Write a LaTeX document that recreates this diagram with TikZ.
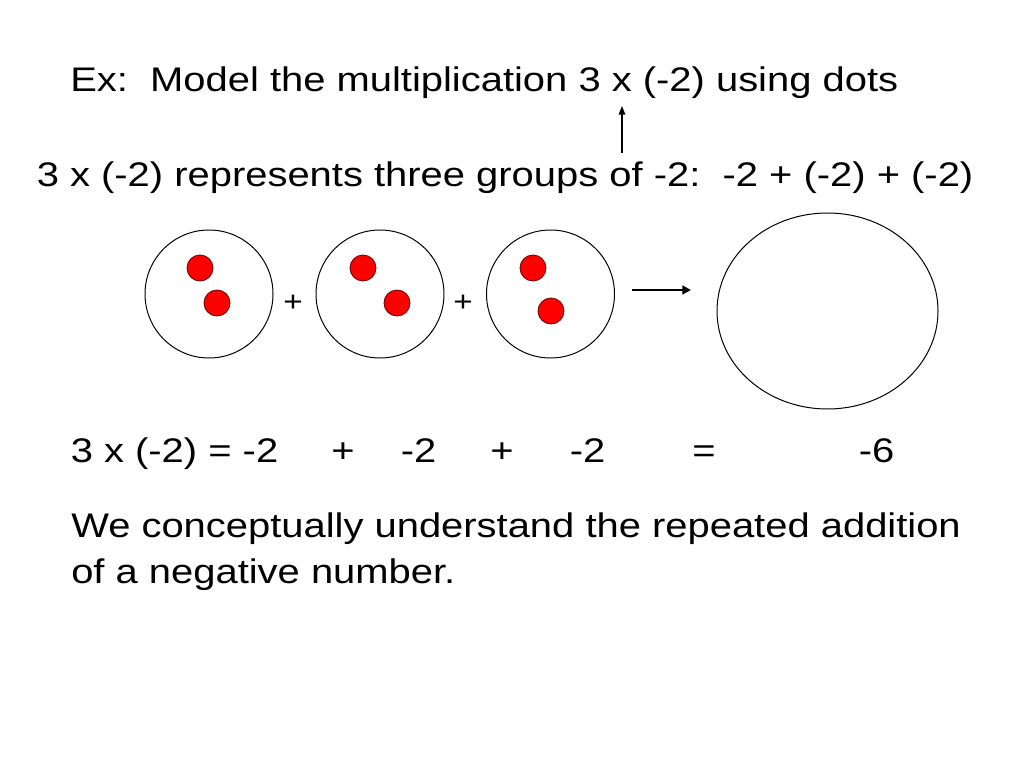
\documentclass[tikz,border=0pt]{standalone}
\usepackage{fontspec}
\setmainfont[FakeStretch=1.17]{Liberation Sans}
\usepackage{xcolor}
\usetikzlibrary{arrows.meta}
\definecolor{figred}{HTML}{FF0000}
\definecolor{figdarkred}{HTML}{700000}
\definecolor{figink}{HTML}{000000}
\tikzset{
  every picture/.append style={font=\fontsize{24}{28}\selectfont},
  txt/.style={inner sep=0pt, anchor=base west, text=figink},
  sym/.style={inner sep=0pt, anchor=base, text=figink},
  ring/.style={draw=figink, line width=0.7pt},
  dot/.style={fill=figred, draw=figdarkred, line width=0.6pt},
}

\begin{document}
\begin{tikzpicture}[x=0.703125pt,y=-0.703125pt]
    \useasboundingbox[fill=white] (0,0) rectangle (1024,768);
    % titles
    \node[txt] (title) at (70,92) {Ex:\ \ Model the multiplication 3 x (-2) using dots};
    \node[txt] (groups) at (36.5,187) {3 x (-2) represents three groups of -2:\ \ -2 + (-2) + (-2)};
    \coordinate (uptail) at (622,153);
    \coordinate (uphead) at (622,106);
    \draw[line width=1pt, -{Triangle[length=6pt,width=4.5pt]}] (uptail) -- (uphead);
    % three groups of two dots
    \draw[ring] (209,294) circle [radius=64];
    \draw[ring] (380,294) circle [radius=64];
    \draw[ring] (550.5,294) circle [radius=64];
    \filldraw[dot] (200,268) circle [radius=13];
    \filldraw[dot] (217,303) circle [radius=13];
    \filldraw[dot] (363,268) circle [radius=13];
    \filldraw[dot] (397,303) circle [radius=13];
    \filldraw[dot] (533,268) circle [radius=13];
    \filldraw[dot] (551,311) circle [radius=13];
    \node[sym, font=\fontsize{20}{24}\selectfont] (plusa) at (293,311) {+};
    \node[sym, font=\fontsize{20}{24}\selectfont] (plusb) at (463,311) {+};
    \coordinate (resulttail) at (632,290);
    \coordinate (resulthead) at (691,290);
    \draw[line width=1.6pt, -{Triangle[length=6pt,width=6pt]}] (resulttail) -- (resulthead);
    \draw[ring] (827.5,311) ellipse [x radius=110.5, y radius=98];
    % equation row
    \node[txt] (eqlhs) at (70.5,462) {3 x (-2) = -2};
    \node[sym] (eqplusa) at (343,462) {+};
    \node[txt] (eqtwob) at (400.5,462) {-2};
    \node[sym] (eqplusb) at (502,462) {+};
    \node[txt] (eqtwoc) at (569.5,462) {-2};
    \node[sym] (eqequal) at (704,462) {=};
    \node[txt] (eqsix) at (858.5,462) {-6};
    % closing remark
    \node[txt] (remarka) at (71,537) {We conceptually understand the repeated addition};
    \node[txt] (remarkb) at (71,583) {of a negative number.};
\end{tikzpicture}
\end{document}
